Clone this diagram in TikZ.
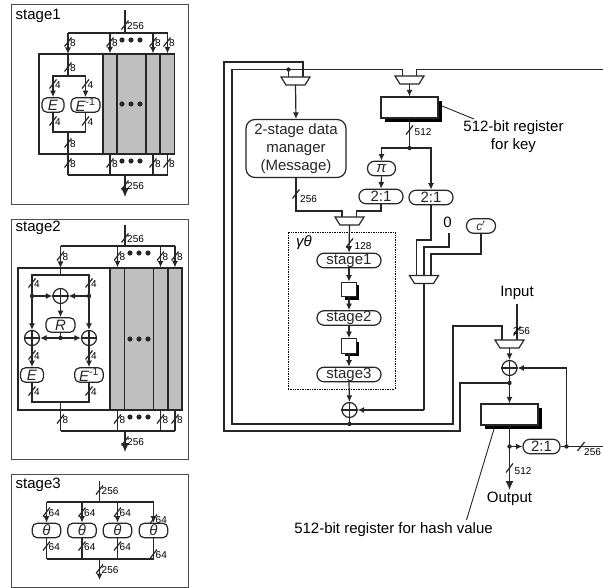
\documentclass[tikz,border=0pt]{standalone}
\usepackage{fontspec}
\setmainfont{Liberation Sans}
\usetikzlibrary{arrows.meta,shadows}
\newcounter{bwcnt}
\tikzset{
  wire/.style={line width=1.2pt,color=black!85},
  ar/.style={wire,-{Latex[length=6.5pt,width=6pt]}},
  bigar/.style={wire,-{Latex[length=9pt,width=8pt]}},
  panel/.style={draw=black!70,line width=0.9pt,inner sep=0},
  txt/.style={inner sep=0,font=\fontsize{15}{18}\selectfont},
  small/.style={inner sep=0,font=\fontsize{10}{10}\selectfont,anchor=west},
  fblock/.style={wire,draw,fill=white,rounded corners=5pt,inner sep=0,minimum height=14.5pt,font=\fontsize{15}{15}\selectfont},
  pill/.style={fblock,rounded corners=7pt},
  grayblk/.style={wire,draw,fill=black!25,inner sep=0},
  whiteblk/.style={wire,draw,fill=white,inner sep=0},
  reg/.style={wire,draw,fill=white,inner sep=0,drop shadow={shadow xshift=4pt,shadow yshift=-4pt,fill=black,opacity=1}},
  sreg/.style={wire,draw,fill=white,inner sep=0,minimum size=14.5pt,drop shadow={shadow xshift=3pt,shadow yshift=-3pt,fill=black,opacity=1}},
  xorn/.style={wire,draw,fill=white,circle,inner sep=0,minimum size=15pt},
}
% bus width mark: x, y, label, label offset
\newcommand{\bwo}[5]{%
  \stepcounter{bwcnt}%
  \draw[wire] (#1-3.5,#2+4.5) -- (#1+3.5,#2-4.5);
  \node[small] (bw\thebwcnt) at (#1+#4,#2+#5) {#3};
}
\newcommand{\bw}[3]{\bwo{#1}{#2}{#3}{2}{1}}
\newcommand{\threedots}[2]{\foreach \d in {-9,0,9} \fill[black!85] (#1+\d,#2) circle (2.6);}
\newcommand{\jdot}[1]{\fill[black!85] (#1) circle (2.2);}
\newcommand{\xorg}[3]{%
  \node[xorn] (#1) at (#2,#3) {};
  \draw[wire] (#1.north) -- (#1.south) (#1.west) -- (#1.east);
}
\newcommand{\muxg}[3]{%
  \draw[wire,fill=white] (#2-14.5,#3-4) -- (#2+14.5,#3-4) -- (#2+9.5,#3+4) -- (#2-9.5,#3+4) -- cycle;
  \coordinate (#1) at (#2,#3+4);
}
\begin{document}
\begin{tikzpicture}[x=1pt,y=-1pt]
\useasboundingbox (0,0) rectangle (603,588);
% stage1
\node[panel,minimum width=177,minimum height=200] (pan1) at (99.5,104) {};
\node[txt,anchor=west] (lab1) at (15.5,16) {stage1};
\node[whiteblk,minimum width=64,minimum height=100] (s1L) at (71,104) {};
\node[grayblk,minimum width=14,minimum height=100] (g11) at (110,104) {};
\node[grayblk,minimum width=29,minimum height=100] (g12) at (131.5,104) {};
\node[grayblk,minimum width=14,minimum height=100] (g13) at (153,104) {};
\node[grayblk,minimum width=14.5,minimum height=100] (g14) at (167.5,104) {};
\coordinate (s1in) at (125,10);
\coordinate (s1top) at (125,33);
\coordinate (s1bot) at (125,175);
\coordinate (s1out) at (125,197);
\coordinate (s1p) at (68,54);
\coordinate (s1q) at (68,154);
\draw[wire] (s1in) -- (s1top);
\draw[wire] (s1p |- s1top) -- (g14.north |- s1top);
\foreach \n in {s1p,g11.north,g13.north,g14.north} \draw[ar] (\n |- s1top) -- (\n);
\draw[wire] (s1q |- s1bot) -- (g14.south |- s1bot);
\foreach \n in {s1q,g11.south,g13.south,g14.south} \draw[wire] (\n) -- (\n |- s1bot);
\draw[bigar] (s1bot) -- (s1out);
\node[fblock,minimum width=22] (e1) at (53,105) {\textit{E}};
\node[fblock,minimum width=29] (d1) at (85.5,105) {\textit{E}\textsuperscript{-1}};
\coordinate (s1a) at (68,76);
\coordinate (s1b) at (68,132);
\draw[wire] (s1p) -- (s1a);
\draw[wire] (s1b) -- (s1q);
\draw[ar] (s1a) -| (e1.north);
\draw[ar] (s1a) -| (d1.north);
\draw[wire] (e1.south) |- (s1b) -| (d1.south);
\foreach \x in {68,110,153,167} \bw{\x}{42}{8};
\foreach \x in {68,110,153,167} \bw{\x}{163}{8};
\bw{68}{67}{8}
\bw{68}{143}{8}
\foreach \x in {53,85.5} \bw{\x}{84}{4};
\foreach \x in {53,85.5} \bw{\x}{121}{4};
\bw{125}{25}{256}
\bw{125}{185}{256}
\threedots{131}{40}
\threedots{131}{104}
\threedots{131}{161}
% stage2
\node[panel,minimum width=177,minimum height=240] (pan2) at (99.5,339) {};
\node[txt,anchor=west] (lab2) at (15.5,228) {stage2};
\node[whiteblk,minimum width=92,minimum height=142] (s2L) at (64,339) {};
\node[grayblk,minimum width=14.5,minimum height=142] (g21) at (117.5,339) {};
\node[grayblk,minimum width=28.5,minimum height=142] (g22) at (139,339) {};
\node[grayblk,minimum width=14.5,minimum height=142] (g23) at (160.5,339) {};
\node[grayblk,minimum width=14,minimum height=142] (g24) at (175,339) {};
\coordinate (s2in) at (125,225);
\coordinate (s2top) at (125,246);
\coordinate (s2bot) at (125,431);
\coordinate (s2out) at (125,452);
\coordinate (s2p) at (60.5,268);
\coordinate (s2q) at (60.5,410);
\draw[wire] (s2in) -- (s2top);
\draw[wire] (s2p |- s2top) -- (g24.north |- s2top);
\foreach \n in {s2p,g21.north,g23.north,g24.north} \draw[ar] (\n |- s2top) -- (\n);
\draw[wire] (s2q |- s2bot) -- (g24.south |- s2bot);
\foreach \n in {s2q,g21.south,g23.south,g24.south} \draw[wire] (\n) -- (\n |- s2bot);
\draw[bigar] (s2bot) -- (s2out);
\xorg{xt}{60.5}{296}
\xorg{xl}{32}{338}
\xorg{xr}{89}{338}
\node[fblock,minimum width=29] (r2) at (60.5,325) {\textit{R}};
\node[fblock,minimum width=23] (e2) at (32,375) {\textit{E}};
\node[fblock,minimum width=28.5] (d2) at (89,375) {\textit{E}\textsuperscript{-1}};
\coordinate (s2a) at (60.5,275);
\coordinate (s2b) at (60.5,402);
\coordinate (s2l) at (32,296);
\coordinate (s2r) at (89,296);
\coordinate (s2m) at (60.5,338);
\draw[wire] (s2p) -- (s2a);
\draw[wire] (s2b) -- (s2q);
\draw[ar] (s2a) -| (xl.north);
\draw[ar] (s2a) -| (xr.north);
\draw[ar] (s2l) -- (xt.west);
\draw[ar] (s2r) -- (xt.east);
\draw[ar] (xt.south) -- (r2.north);
\draw[wire] (r2.south) -- (s2m);
\draw[ar] (s2m) -- (xl.east);
\draw[ar] (s2m) -- (xr.west);
\draw[ar] (xl.south) -- (e2.north);
\draw[ar] (xr.south) -- (d2.north);
\draw[wire] (e2.south) |- (s2b) -| (d2.south);
\foreach \n in {s2l,s2r,s2m} \jdot{\n};
\foreach \x in {60.5,117.5,160.5,175} \bw{\x}{256}{8};
\foreach \x in {60.5,117.5,160.5,175} \bw{\x}{419}{8};
\foreach \x in {32,89} \bw{\x}{283}{4};
\foreach \x in {32,89} \bw{\x}{355}{4};
\foreach \x in {32,89} \bw{\x}{391}{4};
\bw{125}{238}{256}
\bw{125}{441}{256}
\threedots{139}{253}
\threedots{139}{339}
\threedots{139}{417}
% stage3
\node[panel,minimum width=177,minimum height=113] (pan3) at (99.5,530.5) {};
\node[txt,anchor=west] (lab3) at (15.5,485) {stage3};
\coordinate (s3in) at (99.5,481);
\coordinate (s3top) at (99.5,502);
\coordinate (s3bot) at (99.5,559);
\coordinate (s3out) at (99.5,580);
\foreach \n/\x in {t1/46.5,t2/82,t3/117.5,t4/153.5} {
  \node[fblock,minimum width=28.5] (\n) at (\x,530.5) {\textit{θ}};
  \draw[ar] (\n.north |- s3top) -- (\n.north);
  \draw[wire] (\n.south) -- (\n.south |- s3bot);
}
\draw[wire] (s3in) -- (s3top);
\draw[wire] (t1.north |- s3top) -- (t4.north |- s3top);
\draw[wire] (t1.south |- s3bot) -- (t4.south |- s3bot);
\draw[ar] (s3bot) -- (s3out);
\foreach \x in {46.5,82,117.5} \bw{\x}{512}{64};
\foreach \x in {46.5,82,117.5} \bw{\x}{546}{64};
\bw{153.5}{519}{64}
\bw{153.5}{554}{64}
\bw{99.5}{490}{256}
\bw{99.5}{569}{256}
% main data path
\node[draw,densely dotted,line width=0.7pt,inner sep=0,minimum width=107,minimum height=157] (gt) at (341.5,310.5) {};
\node[txt,anchor=west] (gtlab) at (296,243) {\textit{γθ}};
\draw[wire] (303,77) -- (303,62) -- (224,62) -- (224,431) -- (460,431) -- (460,383) -- (509.5,383);
\draw[wire] (402.5,76) -- (402.5,69.5) -- (232,69.5) -- (232,424) -- (453,424) -- (453,326) -- (502,326) -- (502,340);
\draw[wire] (416.5,76) -- (416.5,69.5) -- (603,69.5);
\muxg{m1}{295.5}{81}
\muxg{m2}{409.5}{80}
\muxg{m3}{349.5}{221}
\muxg{m4}{424}{279.5}
\muxg{m5}{509.5}{344}
\node[fblock,rounded corners=9pt,minimum width=100,minimum height=58,align=center,font=\fontsize{15}{18}\selectfont] (dm) at (296,148.5) {2-stage data\\manager\\(Message)};
\node[reg,minimum width=57,minimum height=21] (rk) at (409.5,107.5) {};
\node[reg,minimum width=57,minimum height=21] (rh) at (509.5,414.5) {};
\node[pill,minimum width=28] (pi) at (381.5,168.5) {\textit{π}};
\node[pill,minimum width=44] (sa) at (381,196.5) {2:1};
\node[pill,minimum width=44] (sb) at (431,197.5) {2:1};
\node[pill,minimum width=29,font=\fontsize{12}{12}\selectfont] (cr) at (481,226) {\textit{c}\textsuperscript{\textit{r}}};
\node[pill,minimum width=37] (sc) at (541.5,446.5) {2:1};
\node[txt] (zero) at (447.5,222) {0};
\node[pill,minimum width=64] (st1) at (349,260.5) {stage1};
\node[pill,minimum width=64] (st2) at (349,318) {stage2};
\node[pill,minimum width=64] (st3) at (349,374.5) {stage3};
\node[sreg] (q1) at (349,289.5) {};
\node[sreg] (q2) at (349,346) {};
\xorg{x1}{349.5}{410}
\xorg{x2}{509.5}{368}
\node[txt] (inp) at (517,293) {Input};
\node[txt] (outp) at (509.5,499) {Output};
\node[txt,align=center] (lk) at (513.5,137) {512-bit register\\for key};
\node[txt] (lh) at (393.5,530) {512-bit register for hash value};
% wires
\coordinate (j1) at (288.5,69.5);
\coordinate (j2) at (349.5,424);
\coordinate (j3) at (409.5,148);
\coordinate (j4) at (509.5,383);
\coordinate (j5) at (509.5,446.5);
\coordinate (j6) at (566.5,446.5);
\draw[wire] (j1) -- (288.5,77);
\draw[ar] (m1) -- (dm.north);
\draw[ar] (m2) -- (rk.north);
\draw[wire] (rk.south) -- (j3);
\draw[ar] (j3) -| (pi.north);
\draw[ar] (j3) -| (sb.north);
\draw[ar] (pi.south) -- (sa.north);
\draw[wire] (dm.south) |- (342,211) -- (342,217);
\draw[wire] (sa.south) |- (356.5,211) -- (356.5,217);
\draw[ar] (m3) -- (st1.north);
\draw[ar] (st1.south) -- (q1.north);
\draw[ar] (q1.south) -- (st2.north);
\draw[ar] (st2.south) -- (q2.north);
\draw[ar] (q2.south) -- (st3.north);
\draw[ar] (st3.south) -- (x1.north);
\draw[wire] (x1.south) -- (j2);
\draw[wire] (sb.south) |- (416.5,240) -- (416.5,275.5);
\draw[wire] (449,233) |- (424,247) -- (424,275.5);
\draw[wire] (cr.south) |- (431,254) -- (431,275.5);
\draw[wire] (m4) -- (424,410);
\draw[ar] (424,410) -- (x1.east);
\draw[wire] (517,304) -- (517,340);
\draw[ar] (m5) -- (x2.north);
\draw[ar] (x2.south) -- (rh.north);
\draw[bigar] (rh.south) -- (509.5,490);
\draw[ar] (j5) -- (sc.west);
\draw[wire] (sc.east) -- (603,446.5);
\draw[ar] (j6) |- (x2.east);
\draw[wire,line width=0.9pt] (442,106) -- (474,119);
\draw[wire,line width=0.9pt] (494,429) -- (466.5,520);
\foreach \n in {j1,j2,j3,j4,j5,j6} \jdot{\n};
\bwo{296}{194}{256}{4}{5}
\bwo{409.5}{130}{512}{5}{2}
\bwo{349.5}{243}{128}{5}{3}
\bwo{509.5}{468}{512}{5}{3}
\bwo{581}{446.5}{256}{3}{6}
\bwo{517}{331}{256}{-4}{0}
\end{tikzpicture}
\end{document}
